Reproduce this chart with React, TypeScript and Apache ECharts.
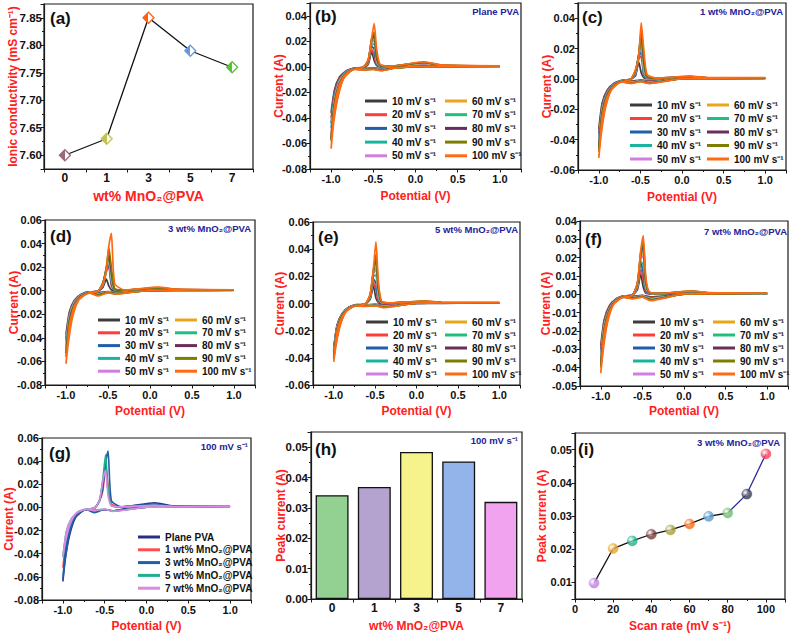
import React, { useEffect, useRef } from 'react';
import * as echarts from 'echarts';

// ---------------- DATA ----------------
// potential sweep (V): cathodic scan 1.0 -> -1.0, then anodic scan back to 1.0
const potential = [1.0, 0.5, 0.15, 0.0, -0.25, -0.4, -0.5, -0.62, -0.72, -0.82, -0.9, -0.96, -1.0, -0.97, -0.92, -0.85, -0.75, -0.62, -0.56, -0.52, -0.49, -0.46, -0.42, -0.3, 0.1, 0.3, 1.0];

const scanRateNames = ['10 mV s⁻¹', '20 mV s⁻¹', '30 mV s⁻¹', '40 mV s⁻¹', '50 mV s⁻¹', '60 mV s⁻¹', '70 mV s⁻¹', '80 mV s⁻¹', '90 mV s⁻¹', '100 mV s⁻¹'];
const scanRates = [10, 20, 30, 40, 50, 60, 70, 80, 90, 100];

// currents in mA, one row per scan rate (10 ... 100 mV/s)
const cvPlane = [
  [0.3, 0.2, 0.1, 0.1, -0.5, -1.2, -1.0, -1.2, -1.0, -3, -8, -18, -36, -25, -13, -5, -1.5, -0.3, 2, 12, 5, 1, 0.3, 0.2, 1.2, 0.5, 0.3],
  [0.3, 0.2, 0.2, 0.1, -0.6, -1.5, -1.2, -1.4, -1.2, -3.3, -9, -20, -40, -28, -14, -5.5, -1.7, -0.3, 2.5, 14, 9, 1.5, 0.4, 0.3, 1.6, 0.7, 0.3],
  [0.4, 0.3, 0.2, 0.1, -0.7, -1.8, -1.3, -1.6, -1.3, -3.6, -10, -22, -44, -30, -16, -6, -1.8, -0.3, 3, 16, 14, 2, 0.4, 0.3, 2, 0.8, 0.4],
  [0.4, 0.3, 0.2, 0.1, -0.7, -2.0, -1.4, -1.8, -1.4, -3.8, -10.5, -24, -48, -33, -17, -6.5, -1.9, -0.4, 3.5, 17, 18, 3, 0.5, 0.3, 2.3, 0.9, 0.4],
  [0.5, 0.3, 0.2, 0.1, -0.8, -2.2, -1.5, -1.9, -1.5, -4, -11, -26, -52, -36, -19, -7, -2, -0.4, 4, 18, 21, 4, 0.6, 0.4, 2.6, 1, 0.5],
  [0.5, 0.4, 0.2, 0.2, -0.8, -2.4, -1.6, -2.0, -1.6, -4.2, -12, -27, -54, -37, -20, -7.5, -2.1, -0.4, 4.5, 19, 23, 5, 0.7, 0.4, 2.9, 1.1, 0.5],
  [0.6, 0.4, 0.3, 0.2, -0.9, -2.5, -1.7, -2.1, -1.7, -4.4, -12.5, -28, -56, -39, -21, -8, -2.2, -0.4, 5, 20, 24, 6, 0.8, 0.4, 3.2, 1.2, 0.6],
  [0.6, 0.4, 0.3, 0.2, -0.9, -2.6, -1.8, -2.2, -1.8, -4.6, -13, -29, -57, -40, -22, -8.3, -2.3, -0.5, 5, 21, 25, 7, 1, 0.5, 3.4, 1.3, 0.6],
  [0.7, 0.5, 0.3, 0.2, -1.0, -2.8, -1.9, -2.3, -1.9, -4.8, -13.5, -30, -58, -41, -23, -8.6, -2.4, -0.5, 5.5, 22, 27, 9, 1.3, 0.5, 3.7, 1.4, 0.7],
  [0.8, 0.5, 0.3, 0.2, -1.0, -3.0, -2.0, -2.5, -2.0, -5, -14, -32, -64, -44, -24, -9, -2.5, -0.5, 6, 22, 34, 14, 2, 0.5, 4, 1.5, 0.8],
];
const cv1wt = [
  [0.3, 0.2, 0.1, 0.1, -0.8, -1.2, -0.8, -1.5, -1.0, -3, -7.5, -16, -33, -23, -12, -4.5, -1.4, -0.3, 2, 11, 4, 0.8, 0.3, 0.2, 0.8, 0.4, 0.3],
  [0.3, 0.2, 0.2, 0.1, -1.0, -1.5, -1.0, -1.8, -1.2, -3.2, -8, -17.5, -36, -25, -13, -5, -1.5, -0.3, 2.5, 13, 15, 2, 0.4, 0.3, 1, 0.5, 0.3],
  [0.4, 0.3, 0.2, 0.1, -1.2, -1.8, -1.1, -2.0, -1.3, -3.4, -8.5, -18.5, -38, -26.5, -14, -5.3, -1.6, -0.3, 3, 14, 18, 3, 0.5, 0.3, 1.1, 0.5, 0.4],
  [0.4, 0.3, 0.2, 0.1, -1.3, -2.0, -1.2, -2.2, -1.4, -3.6, -9, -19.5, -40, -28, -14.5, -5.6, -1.7, -0.4, 3.5, 15, 22, 4, 0.6, 0.3, 1.2, 0.6, 0.4],
  [0.5, 0.3, 0.2, 0.1, -1.4, -2.2, -1.3, -2.4, -1.5, -3.8, -9.5, -20.5, -42, -29, -15, -5.9, -1.8, -0.4, 4, 15, 24, 6, 0.7, 0.4, 1.3, 0.6, 0.5],
  [0.5, 0.4, 0.2, 0.2, -1.5, -2.4, -1.4, -2.5, -1.6, -4, -10, -21.5, -44, -30.5, -16, -6.2, -1.9, -0.4, 4.5, 16, 27, 8, 0.8, 0.4, 1.4, 0.7, 0.5],
  [0.6, 0.4, 0.3, 0.2, -1.6, -2.6, -1.5, -2.7, -1.7, -4.1, -10.3, -22, -45, -31.5, -16.5, -6.4, -2, -0.4, 5, 16, 29, 10, 1, 0.4, 1.5, 0.7, 0.6],
  [0.6, 0.4, 0.3, 0.2, -1.7, -2.7, -1.6, -2.8, -1.8, -4.2, -10.5, -22.5, -46, -32, -17, -6.6, -2.1, -0.5, 5, 16, 30, 12, 1.2, 0.5, 1.6, 0.8, 0.6],
  [0.7, 0.5, 0.3, 0.2, -1.8, -2.9, -1.7, -2.9, -1.9, -4.4, -11, -23.5, -48, -33.5, -18, -6.9, -2.2, -0.5, 5.5, 16, 32, 15, 1.5, 0.5, 1.7, 0.8, 0.7],
  [0.8, 0.5, 0.3, 0.2, -2.0, -3.0, -1.8, -3.0, -2.0, -4.7, -12, -26, -52, -36, -19, -7.5, -2.4, -0.5, 6, 15, 37, 20, 3, 0.5, 1.8, 0.9, 0.8],
];
const cv3wt = [
  [0.3, 0.2, 0.2, 0.1, -0.6, -1.0, -0.8, -1.5, -1.0, -3, -8, -18, -37, -26, -13, -5, -1.5, -0.3, 3, 9.8, 4, 0.8, 0.3, 0.2, 1, 0.5, 0.3],
  [0.4, 0.3, 0.2, 0.1, -0.8, -1.3, -1.0, -2.0, -1.2, -3.3, -8.5, -19.5, -40, -28, -14, -5.4, -1.6, -0.3, 4, 16, 20.2, 4, 0.5, 0.3, 1.3, 0.6, 0.4],
  [0.4, 0.3, 0.2, 0.1, -0.9, -1.5, -1.1, -2.3, -1.3, -3.5, -9, -20.5, -42, -29, -15, -5.7, -1.7, -0.3, 4.5, 17, 22.5, 6, 0.6, 0.3, 1.5, 0.7, 0.4],
  [0.5, 0.3, 0.2, 0.1, -1.0, -1.7, -1.2, -2.6, -1.4, -3.7, -9.5, -21.5, -44, -30.5, -15.5, -6, -1.8, -0.4, 5, 18, 24.5, 8, 0.7, 0.4, 1.7, 0.8, 0.5],
  [0.5, 0.4, 0.2, 0.2, -1.1, -1.9, -1.3, -2.9, -1.5, -3.9, -10, -22.5, -46, -32, -16, -6.3, -1.9, -0.4, 5.5, 18, 25.8, 10, 0.8, 0.4, 1.9, 0.9, 0.5],
  [0.6, 0.4, 0.3, 0.2, -1.2, -2.1, -1.4, -3.1, -1.6, -4.1, -10.5, -23.5, -48, -33, -17, -6.6, -2, -0.4, 6, 18, 27.6, 12, 1, 0.4, 2.1, 1, 0.6],
  [0.6, 0.4, 0.3, 0.2, -1.3, -2.3, -1.5, -3.3, -1.7, -4.3, -11, -24.5, -50, -34.5, -18, -6.9, -2.1, -0.4, 6.5, 19, 29.9, 14, 1.2, 0.5, 2.3, 1, 0.6],
  [0.7, 0.5, 0.3, 0.2, -1.4, -2.5, -1.6, -3.5, -1.8, -4.5, -11.5, -26, -53, -36.5, -19, -7.2, -2.2, -0.5, 7, 19, 30.9, 16, 1.4, 0.5, 2.5, 1.1, 0.7],
  [0.7, 0.5, 0.3, 0.2, -1.5, -2.7, -1.7, -3.8, -1.9, -4.8, -12, -27.5, -56, -38.5, -20, -7.6, -2.3, -0.5, 7, 20, 36.6, 20, 1.7, 0.5, 2.7, 1.2, 0.7],
  [0.8, 0.6, 0.4, 0.2, -1.6, -3.0, -1.8, -4.5, -2.0, -5, -13, -30, -62, -43, -22, -8.2, -2.5, -0.5, 6, 18, 38, 48.7, 6, 0.6, 3, 1.3, 0.8],
];
const cv5wt = [
  [0.2, 0.2, 0.1, 0.1, -0.8, -1.0, -0.6, -1.0, -0.8, -2.8, -7.5, -16, -33, -23, -12, -4.5, -1.4, -0.3, 3, 13, 4, 0.6, 0.3, 0.2, 0.8, 0.4, 0.2],
  [0.3, 0.2, 0.2, 0.1, -1.0, -1.3, -0.8, -1.2, -0.9, -2.9, -7.8, -16.5, -34, -24, -12.5, -4.6, -1.5, -0.3, 3.5, 16, 10, 1, 0.4, 0.3, 1, 0.5, 0.3],
  [0.3, 0.2, 0.2, 0.1, -1.2, -1.6, -0.9, -1.4, -1.0, -3, -8, -17, -35, -24.5, -13, -4.8, -1.5, -0.3, 4, 18, 15, 2, 0.5, 0.3, 1.1, 0.5, 0.3],
  [0.4, 0.3, 0.2, 0.1, -1.3, -1.8, -1.0, -1.5, -1.1, -3.1, -8.2, -17.5, -36, -25, -13.3, -4.9, -1.6, -0.4, 4.5, 20, 21, 3, 0.6, 0.3, 1.2, 0.6, 0.4],
  [0.4, 0.3, 0.2, 0.1, -1.4, -2.0, -1.1, -1.6, -1.2, -3.2, -8.5, -18, -37, -26, -13.7, -5, -1.6, -0.4, 5, 21, 26, 5, 0.7, 0.4, 1.3, 0.6, 0.4],
  [0.5, 0.3, 0.2, 0.2, -1.5, -2.2, -1.2, -1.7, -1.3, -3.3, -8.7, -18.5, -38, -26.5, -14, -5.2, -1.7, -0.4, 5.5, 22, 29, 7, 0.8, 0.4, 1.4, 0.7, 0.5],
  [0.5, 0.4, 0.3, 0.2, -1.6, -2.4, -1.3, -1.8, -1.4, -3.4, -9, -19, -39, -27, -14.4, -5.3, -1.7, -0.4, 6, 23, 32, 9, 0.9, 0.4, 1.5, 0.7, 0.5],
  [0.6, 0.4, 0.3, 0.2, -1.7, -2.6, -1.4, -1.9, -1.5, -3.5, -9.2, -19.5, -40, -28, -14.8, -5.5, -1.8, -0.5, 6, 24, 34, 11, 1, 0.5, 1.6, 0.8, 0.6],
  [0.6, 0.4, 0.3, 0.2, -1.8, -2.8, -1.5, -2.0, -1.6, -3.6, -9.5, -20, -41, -28.5, -15.2, -5.6, -1.8, -0.5, 6.5, 25, 36, 13, 1.2, 0.5, 1.7, 0.8, 0.6],
  [0.7, 0.5, 0.3, 0.2, -2.0, -3.0, -1.6, -2.2, -1.7, -3.8, -10, -21, -43, -30, -16, -5.9, -1.9, -0.5, 7, 26, 45.5, 16, 1.5, 0.5, 1.8, 0.9, 0.7],
];
const cv7wt = [
  [0.2, 0.2, 0.1, 0.1, -1.0, -1.4, -0.6, -1.0, -0.8, -2.5, -6.5, -14, -28, -20, -10, -4, -1.2, -0.3, 2.5, 11, 4, 0.6, 0.3, 0.2, 0.8, 0.4, 0.2],
  [0.3, 0.2, 0.2, 0.1, -1.2, -1.7, -0.7, -1.2, -0.9, -2.6, -7, -15, -30, -21, -11, -4.2, -1.3, -0.3, 3, 14, 8, 1, 0.4, 0.3, 1, 0.5, 0.3],
  [0.3, 0.2, 0.2, 0.1, -1.4, -2.0, -0.8, -1.4, -1.0, -2.8, -7.5, -16, -32, -22.5, -11.5, -4.4, -1.4, -0.3, 3.5, 17, 12, 2, 0.5, 0.3, 1.1, 0.5, 0.3],
  [0.4, 0.3, 0.2, 0.1, -1.5, -2.2, -0.9, -1.6, -1.1, -3, -8, -17, -34, -24, -12, -4.6, -1.5, -0.4, 4, 18, 16, 3, 0.6, 0.3, 1.2, 0.6, 0.4],
  [0.4, 0.3, 0.2, 0.1, -1.6, -2.4, -1.0, -1.8, -1.2, -3.1, -8.2, -17.5, -35, -24.5, -12.5, -4.7, -1.5, -0.4, 4.5, 19, 21, 4, 0.7, 0.4, 1.3, 0.6, 0.4],
  [0.5, 0.3, 0.2, 0.2, -1.7, -2.6, -1.1, -1.9, -1.3, -3.2, -8.5, -18, -36, -25, -13, -4.9, -1.6, -0.4, 5, 20, 23, 5, 0.8, 0.4, 1.4, 0.7, 0.5],
  [0.5, 0.4, 0.3, 0.2, -1.8, -2.8, -1.2, -2.0, -1.4, -3.3, -8.8, -19, -38, -26.5, -13.5, -5.1, -1.7, -0.4, 5.5, 21, 25, 6, 0.9, 0.4, 1.5, 0.7, 0.5],
  [0.6, 0.4, 0.3, 0.2, -1.9, -3.0, -1.3, -2.1, -1.5, -3.4, -9, -19.5, -39, -27, -14, -5.2, -1.7, -0.5, 6, 22, 27, 7, 1, 0.5, 1.6, 0.8, 0.6],
  [0.6, 0.4, 0.3, 0.2, -2.0, -3.2, -1.4, -2.2, -1.6, -3.5, -9.3, -20, -40, -28, -14.5, -5.4, -1.8, -0.5, 6, 23, 29, 8, 1.2, 0.5, 1.7, 0.8, 0.6],
  [0.7, 0.5, 0.3, 0.2, -2.2, -3.5, -1.5, -2.5, -1.7, -3.7, -10, -21.5, -43, -30, -15.5, -5.8, -1.9, -0.5, 6.5, 24, 32, 10, 1.5, 0.5, 1.8, 0.9, 0.7],
];

const wtCategories = ['0', '1', '3', '5', '7'];
const ionicConductivity = [7.6, 7.63, 7.85, 7.79, 7.76];
const peakCurrentByWt = [0.0342, 0.0369, 0.0484, 0.0453, 0.032];
const peakCurrentByRate = [0.0098, 0.0202, 0.0225, 0.0245, 0.0258, 0.0276, 0.0299, 0.0309, 0.0366, 0.0487];
const sampleNames = ['Plane PVA', '1 wt% MnO₂@PVA', '3 wt% MnO₂@PVA', '5 wt% MnO₂@PVA', '7 wt% MnO₂@PVA'];

// ---------------- STYLE ----------------
const FONT = '"Liberation Sans", Arial, Helvetica, sans-serif';
const rateColors = ['#3c3c3c', '#ff3c3c', '#1f5fa8', '#19b3a0', '#d07fe0', '#eaa51a', '#1fbf80', '#6b2c5e', '#7d7d00', '#ff6a13'];
const sampleColors = ['#2c2c8c', '#ff4d4d', '#1f5fa8', '#1fb08f', '#d88be0'];
const markerColorsA = ['#9a6a7a', '#c2c25a', '#ff6010', '#6a98d8', '#5cbf3c'];
const barColors = ['#93d193', '#b4a2cf', '#f6f28c', '#93b4ea', '#f2a3ef'];
const dotColors = ['#c27fe6', '#e9a32a', '#1fb38f', '#7a3b3b', '#a6a23a', '#ff6a10', '#5a9ccc', '#6cc06c', '#3a3a55', '#ff3c5a'];
const NAME_RED = '#ff2020';
const ANNOT_BLUE = '#22229a';

type GridBox = [number, number, number, number];
const gridsLayout: Record<string, GridBox> = {
  a: [44, 4, 209, 165],
  b: [310, 3, 211, 166],
  c: [578, 3, 208, 167],
  d: [45, 220, 210, 165],
  e: [313, 222, 207, 163],
  f: [580, 221, 208, 165],
  g: [42, 438, 209, 162],
  h: [311, 432, 211, 167],
  i: [575, 433, 210, 166],
};
const panelOrder = ['a', 'b', 'c', 'd', 'e', 'f', 'g', 'h', 'i'];

function stepLabel(step: number, dec: number) {
  return (v: number) => {
    const r = v / step;
    if (Math.abs(r - Math.round(r)) > 1e-6) return '';
    const val = Math.abs(v) < 1e-12 ? 0 : v;
    return val.toFixed(dec);
  };
}

function buildOption() {
  const grid: any[] = [];
  const xAxis: any[] = [];
  const yAxis: any[] = [];
  const series: any[] = [];
  const legend: any[] = [];
  const title: any[] = [];

  panelOrder.forEach((k) => {
    const [l, t, w, h] = gridsLayout[k];
    grid.push({ left: l, top: t, width: w, height: h, show: true, borderColor: '#1a1a1a', borderWidth: 1.2, containLabel: false });
  });

  const axisCommon = (gi: number, fontSize: number) => ({
    gridIndex: gi,
    nameLocation: 'middle',
    nameMoveOverlap: false,
    axisLine: { show: true, onZero: false, lineStyle: { color: '#1a1a1a', width: 1.2 } },
    axisTick: { show: true, inside: false, length: 3.5, lineStyle: { color: '#1a1a1a', width: 1 } },
    splitLine: { show: false },
    axisLabel: { color: '#111', fontWeight: 'bold', fontSize, fontFamily: FONT, margin: 3 },
    nameTextStyle: { color: NAME_RED, fontWeight: 'bold', fontSize: 12, fontFamily: FONT },
  });
  const minor = { show: true, splitNumber: 2, length: 2, lineStyle: { color: '#1a1a1a', width: 1 } };

  // ---- (a) ----
  xAxis.push({
    ...axisCommon(0, 12), type: 'category', data: wtCategories, boundaryGap: true,
    name: 'wt% MnO₂@PVA', nameGap: 20,
    nameTextStyle: { color: NAME_RED, fontWeight: 'bold', fontSize: 14, fontFamily: FONT },
  });
  yAxis.push({
    ...axisCommon(0, 11.5), type: 'value', min: 7.575, max: 7.875, splitNumber: 6,
    minorTick: minor,
    axisLabel: { color: '#111', fontWeight: 'bold', fontSize: 11.5, fontFamily: FONT, margin: 2, formatter: stepLabel(0.05, 2), showMinLabel: false, showMaxLabel: false },
    name: 'Ionic conductivity (mS cm⁻¹)', nameGap: 25,
  });
  series.push({
    type: 'line', xAxisIndex: 0, yAxisIndex: 0, symbol: 'diamond', symbolSize: 11,
    lineStyle: { color: '#111', width: 1.3 },
    data: ionicConductivity.map((v, i) => ({
      value: v,
      itemStyle: {
        borderColor: markerColorsA[i], borderWidth: 1.3,
        color: { type: 'linear', x: 0, y: 0, x2: 1, y2: 0, colorStops: [
          { offset: 0, color: markerColorsA[i] }, { offset: 0.5, color: markerColorsA[i] },
          { offset: 0.5, color: '#ffffff' }, { offset: 1, color: '#ffffff' } ] },
      },
    })),
    z: 3,
  });

  // ---- CV panels b-f ----
  const cvPanels = [
    { key: 'b', gi: 1, data: cvPlane, ymin: -0.08, ymax: 0.05, step: 0.02, nameGapY: 25, nameGapX: 21, leg: [365, 445, 95, 13.7], annot: 'Plane PVA', annotPos: [519, 12], letter: [315, 17] },
    { key: 'c', gi: 2, data: cv1wt, ymin: -0.06, ymax: 0.05, step: 0.02, nameGapY: 25, nameGapX: 21, leg: [630, 707, 99, 13.5], annot: '1 wt% MnO₂@PVA', annotPos: [783, 12], letter: [582, 18] },
    { key: 'd', gi: 3, data: cv3wt, ymin: -0.08, ymax: 0.06, step: 0.02, nameGapY: 25, nameGapX: 20, leg: [98, 175, 314, 12.8], annot: '3 wt% MnO₂@PVA', annotPos: [251, 229], letter: [50, 237] },
    { key: 'e', gi: 4, data: cv5wt, ymin: -0.06, ymax: 0.06, step: 0.02, nameGapY: 27, nameGapX: 20, leg: [366, 445, 316, 13], annot: '5 wt% MnO₂@PVA', annotPos: [518, 230], letter: [318, 238] },
    { key: 'f', gi: 5, data: cv7wt, ymin: -0.05, ymax: 0.04, step: 0.01, nameGapY: 28, nameGapX: 19, leg: [633, 713, 316, 13], annot: '7 wt% MnO₂@PVA', annotPos: [787, 232], letter: [585, 240] },
  ];

  const addCvAxes = (gi: number, ymin: number, ymax: number, step: number, ngY: number, ngX: number) => {
    xAxis.push({
      ...axisCommon(gi, 11), type: 'value', min: -1.25, max: 1.25, splitNumber: 5,
      minorTick: minor,
      axisLabel: { color: '#111', fontWeight: 'bold', fontSize: 11, fontFamily: FONT, margin: 4, formatter: stepLabel(0.5, 1), showMinLabel: false, showMaxLabel: false },
      name: 'Potential (V)', nameGap: ngX,
    });
    yAxis.push({
      ...axisCommon(gi, 11), type: 'value', min: ymin, max: ymax, interval: step,
      minorTick: minor,
      axisLabel: { color: '#111', fontWeight: 'bold', fontSize: 11, fontFamily: FONT, margin: 3, formatter: stepLabel(step, 2) },
      name: 'Current (A)', nameGap: ngY,
    });
  };

  const legendBase = {
    orient: 'vertical', icon: 'rect', itemWidth: 22, itemHeight: 3, padding: 0, selectedMode: false,
    textStyle: { color: '#111', fontWeight: 'bold', fontSize: 10, fontFamily: FONT, lineHeight: 12 },
  };

  cvPanels.forEach((p) => {
    addCvAxes(p.gi, p.ymin, p.ymax, p.step, p.nameGapY, p.nameGapX);
    p.data.forEach((cur, ri) => {
      series.push({
        type: 'line', name: scanRateNames[ri], xAxisIndex: p.gi, yAxisIndex: p.gi,
        symbol: 'none', smooth: 0.2,
        lineStyle: { color: rateColors[ri], width: 1.7 },
        itemStyle: { color: rateColors[ri] },
        data: potential.map((e, i) => [e, cur[i] / 1000]),
      });
    });
    const [c1, c2, top, spacing] = p.leg;
    legend.push({ ...legendBase, left: c1, top, itemGap: spacing - 12, data: scanRateNames.slice(0, 5) });
    legend.push({ ...legendBase, left: c2, top, itemGap: spacing - 12, data: scanRateNames.slice(5) });
    title.push({ text: p.annot, right: 791 - p.annotPos[0], top: p.annotPos[1] - 6, padding: 0, textStyle: { color: ANNOT_BLUE, fontWeight: 'bold', fontSize: 9.5, fontFamily: FONT } });
    title.push({ text: '(' + p.key + ')', left: p.letter[0], top: p.letter[1] - 9, padding: 0, textStyle: { color: '#111', fontWeight: 'bold', fontSize: 17, fontFamily: FONT } });
  });

  // ---- (g) 100 mV/s comparison ----
  addCvAxes(6, -0.08, 0.06, 0.02, 27, 20);
  const hundred = [cvPlane[9], cv1wt[9], cv3wt[9], cv5wt[9], cv7wt[9]];
  hundred.forEach((cur, si) => {
    series.push({
      type: 'line', name: sampleNames[si], xAxisIndex: 6, yAxisIndex: 6,
      symbol: 'none', smooth: 0.2,
      lineStyle: { color: sampleColors[si], width: 1.6 },
      itemStyle: { color: sampleColors[si] },
      data: potential.map((e, i) => [e, cur[i] / 1000]),
    });
  });
  legend.push({ ...legendBase, left: 138, top: 531, itemGap: 0.8, data: sampleNames });

  // ---- (h) bars ----
  xAxis.push({
    ...axisCommon(7, 12), type: 'category', data: wtCategories, boundaryGap: true,
    name: 'wt% MnO₂@PVA', nameGap: 21,
  });
  yAxis.push({
    ...axisCommon(7, 11.5), type: 'value', min: 0, max: 0.055, interval: 0.01,
    minorTick: minor,
    axisLabel: { color: '#111', fontWeight: 'bold', fontSize: 11.5, fontFamily: FONT, margin: 3, formatter: stepLabel(0.01, 2) },
    name: 'Peak current (A)', nameGap: 24,
  });
  series.push({
    type: 'bar', xAxisIndex: 7, yAxisIndex: 7, barWidth: '78%',
    data: peakCurrentByWt.map((v, i) => ({ value: v, itemStyle: { color: barColors[i], borderColor: '#111', borderWidth: 1.3 } })),
  });

  // ---- (i) peak current vs scan rate ----
  xAxis.push({
    ...axisCommon(8, 11), type: 'value', min: 0, max: 110, interval: 20,
    minorTick: minor,
    axisLabel: { color: '#111', fontWeight: 'bold', fontSize: 11, fontFamily: FONT, margin: 4, formatter: stepLabel(20, 0) },
    name: 'Scan rate (mV s⁻¹)', nameGap: 21,
  });
  yAxis.push({
    ...axisCommon(8, 11), type: 'value', min: 0.005, max: 0.055, splitNumber: 5,
    minorTick: minor,
    axisLabel: { color: '#111', fontWeight: 'bold', fontSize: 11, fontFamily: FONT, margin: 3, formatter: stepLabel(0.01, 2), showMinLabel: false, showMaxLabel: false },
    name: 'Peak current (A)', nameGap: 27,
  });
  const ratePoints = scanRates.map((r, i) => [r, peakCurrentByRate[i]]);
  series.push({
    type: 'line', xAxisIndex: 8, yAxisIndex: 8, symbol: 'none',
    lineStyle: { color: '#111', width: 1.3 }, data: ratePoints.slice(0, 8),
  });
  series.push({
    type: 'line', xAxisIndex: 8, yAxisIndex: 8, symbol: 'none',
    lineStyle: { color: '#2a2aa0', width: 1.3 }, data: ratePoints.slice(7),
  });
  series.push({
    type: 'scatter', xAxisIndex: 8, yAxisIndex: 8, symbol: 'circle', symbolSize: 10, z: 4,
    data: ratePoints.map((p, i) => ({
      value: p,
      itemStyle: {
        color: { type: 'radial', x: 0.35, y: 0.35, r: 0.75, colorStops: [{ offset: 0, color: '#ffffff' }, { offset: 0.55, color: dotColors[i] }, { offset: 1, color: dotColors[i] }] },
        borderColor: dotColors[i], borderWidth: 0.5,
      },
    })),
  });

  // ---- titles for a, g, h, i ----
  const extraTitles = [
    { text: '(a)', left: 50, cy: 19 },
    { text: '(g)', left: 49, cy: 454 },
    { text: '(h)', left: 315, cy: 450 },
    { text: '(i)', left: 578, cy: 450 },
  ];
  extraTitles.forEach((t) => title.push({ text: t.text, left: t.left, top: t.cy - 9, padding: 0, textStyle: { color: '#111', fontWeight: 'bold', fontSize: 17, fontFamily: FONT } }));
  const extraAnnots = [
    { text: '100 mV s⁻¹', right: 248, cy: 447 },
    { text: '100 mV s⁻¹', right: 518, cy: 441 },
    { text: '3 wt% MnO₂@PVA', right: 780, cy: 443 },
  ];
  extraAnnots.forEach((t) => title.push({ text: t.text, right: 791 - t.right, top: t.cy - 6, padding: 0, textStyle: { color: ANNOT_BLUE, fontWeight: 'bold', fontSize: 9.5, fontFamily: FONT } }));

  return {
    animation: false,
    backgroundColor: '#ffffff',
    textStyle: { fontFamily: FONT },
    grid, xAxis, yAxis, series, legend, title,
  };
}

export default function App() {
  const ref = useRef<HTMLDivElement>(null);
  useEffect(() => {
    if (!ref.current) return;
    const chart = echarts.init(ref.current, undefined, { renderer: 'svg' });
    chart.setOption(buildOption() as any);
    return () => chart.dispose();
  }, []);
  return <div ref={ref} style={{ position: 'absolute', left: 0, top: 0, width: 791, height: 637 }} />;
}
